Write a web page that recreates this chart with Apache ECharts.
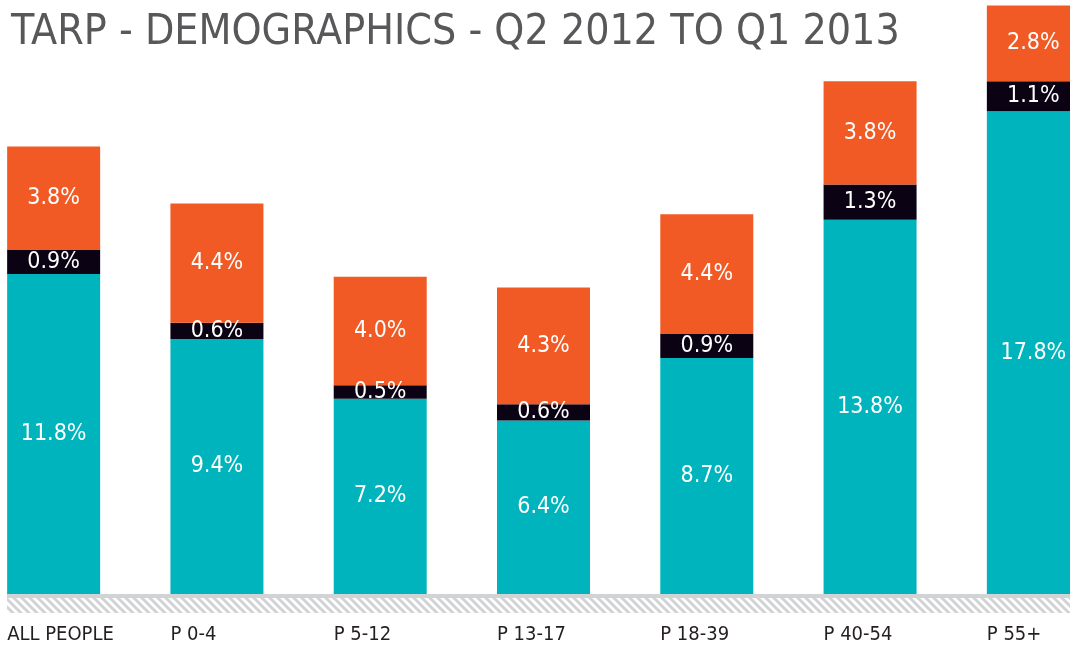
<!DOCTYPE html>
<html>
<head>
<meta charset="utf-8">
<script src="https://cdn.jsdelivr.net/npm/echarts@6/dist/echarts.min.js"></script>
<style>
html,body{margin:0;padding:0;background:#fff;}
#chart{width:1070px;height:648px;}
</style>
</head>
<body>
<div id="chart"></div>
<script>
const categories = ['ALL PEOPLE', 'P 0-4', 'P 5-12', 'P 13-17', 'P 18-39', 'P 40-54', 'P 55+'];
const tealValues = [11.8, 9.4, 7.2, 6.4, 8.7, 13.8, 17.8];
const blackValues = [0.9, 0.6, 0.5, 0.6, 0.9, 1.3, 1.1];
const orangeValues = [3.8, 4.4, 4.0, 4.3, 4.4, 3.8, 2.8];
const titleText = 'TARP - DEMOGRAPHICS - Q2 2012 TO Q1 2013';

const FONT = "'DejaVu Sans Condensed', sans-serif";

function hatchPattern() {
  const c = document.createElement('canvas');
  c.width = 8; c.height = 8;
  const g = c.getContext('2d');
  g.fillStyle = '#ffffff';
  g.fillRect(0, 0, 8, 8);
  g.strokeStyle = '#d2d3d5';
  g.lineWidth = 3;
  g.beginPath();
  g.moveTo(-2, -2); g.lineTo(10, 10);
  g.moveTo(-10, -2); g.lineTo(2, 10);
  g.moveTo(6, -2); g.lineTo(18, 10);
  g.stroke();
  return c;
}

const labelStyle = {
  show: true,
  position: 'inside',
  color: '#ffffff',
  fontFamily: FONT,
  fontSize: 23,
  formatter: p => p.value.toFixed(1) + '%'
};

function seriesFor(name, data, color) {
  return {
    name: name,
    type: 'bar',
    stack: 'total',
    data: data,
    barWidth: 93,
    itemStyle: { color: color },
    label: labelStyle,
    emphasis: { disabled: true },
    silent: true
  };
}

const chart = echarts.init(document.getElementById('chart'), null, { renderer: 'canvas' });
chart.setOption({
  animation: false,
  backgroundColor: '#ffffff',
  title: {
    text: titleText,
    left: 6,
    top: 6,
    textStyle: { fontFamily: FONT, fontWeight: 'normal', fontSize: 42.5, color: '#58585a' }
  },
  grid: { left: -28, width: 1143, top: 0, bottom: 54, containLabel: false, outerBoundsMode: 'none' },
  xAxis: {
    type: 'category',
    data: categories,
    axisLine: { show: false },
    axisTick: { show: false },
    axisLabel: {
      margin: 31,
      formatter: '{a|{value}}',
      rich: {
        a: { width: 93, align: 'left', fontFamily: FONT, fontSize: 20, color: '#231f20' }
      }
    }
  },
  yAxis: {
    type: 'value',
    min: 0,
    max: 21.9,
    show: false,
    splitLine: { show: false }
  },
  graphic: [
    { type: 'rect', shape: { x: 7, y: 594, width: 1070, height: 4 }, style: { fill: '#d2d3d5' }, silent: true },
    { type: 'rect', shape: { x: 7, y: 598, width: 1070, height: 15 }, style: { fill: { image: hatchPattern(), repeat: 'repeat' } }, silent: true }
  ],
  series: [
    seriesFor('teal', tealValues, '#00b4bd'),
    seriesFor('black', blackValues, '#0b0313'),
    seriesFor('orange', orangeValues, '#f15a24')
  ]
});
</script>
</body>
</html>
